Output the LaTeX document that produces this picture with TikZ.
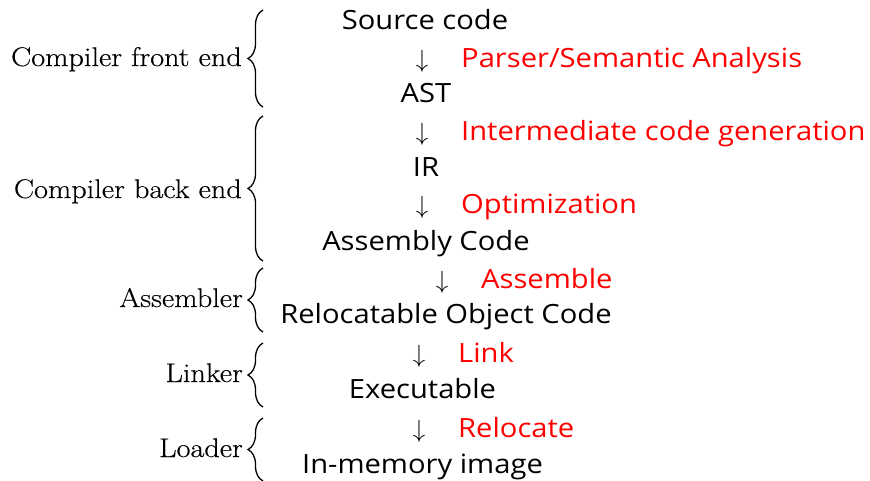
\documentclass[tikz,border=0pt]{standalone}
\usepackage{fontspec}
\newfontfamily\sansf[FakeStretch=1.1]{Open Sans}
\newfontfamily\serf[FakeStretch=1.12,FakeBold=0.35]{Latin Modern Roman}
\usetikzlibrary{decorations.pathreplacing}
\definecolor{labred}{RGB}{255,0,0}
\tikzset{
  stage/.style={font=\sansf\fontsize{26.5}{30}\selectfont, anchor=base, inner sep=0pt},
  act/.style={font=\sansf\fontsize{26.5}{30}\selectfont, text=labred, anchor=base west, inner sep=0pt},
  darrow/.style={font=\fontsize{26.5}{30}\selectfont, anchor=base, inner sep=0pt},
  phase/.style={font=\serf\fontsize{27}{30}\selectfont, anchor=base east, inner sep=0pt},
  bracefig/.style={decorate, decoration={brace, amplitude=15pt}, line width=1.3pt}
}
\begin{document}
\begin{tikzpicture}[x=1pt,y=-1pt]
\useasboundingbox (0,0) rectangle (870,480);
% stages
\node[stage] (src) at (425,29) {Source code};
\node[darrow] (a1) at (422,67) {$\downarrow$};
\node[act] (l1) at (461,67) {Parser/Semantic Analysis};
\node[stage] (ast) at (426,102) {AST};
\node[darrow] (a2) at (422,140) {$\downarrow$};
\node[act] (l2) at (461,140) {Intermediate code generation};
\node[stage] (ir) at (426,176) {IR};
\node[darrow] (a3) at (422,213) {$\downarrow$};
\node[act] (l3) at (461,213) {Optimization};
\node[stage] (asm) at (426,250) {Assembly Code};
\node[darrow] (a4) at (442,288) {$\downarrow$};
\node[act] (l4) at (481,288) {Assemble};
\node[stage] (rel) at (446,323) {Relocatable Object Code};
\node[darrow] (a5) at (419,362) {$\downarrow$};
\node[act] (l5) at (458,362) {Link};
\node[stage] (exe) at (422.5,398) {Executable};
\node[darrow] (a6) at (419,437) {$\downarrow$};
\node[act] (l6) at (458,437) {Relocate};
\node[stage] (mem) at (422.5,473) {In-memory image};
% phases
\node[phase] (pfront) at (242,66) {Compiler front end};
\node[phase] (pback) at (242,198) {Compiler back end};
\node[phase] (pasm) at (243,307) {Assembler};
\node[phase] (plink) at (243,382) {Linker};
\node[phase] (pload) at (243,457) {Loader};
% braces
\coordinate (fb1) at (263,107); \coordinate (fb2) at (263,10);
\coordinate (bb1) at (263,261); \coordinate (bb2) at (263,116);
\coordinate (ab1) at (263,332); \coordinate (ab2) at (263,268);
\coordinate (kb1) at (263,407); \coordinate (kb2) at (263,343);
\coordinate (ob1) at (263,481); \coordinate (ob2) at (263,418);
\draw[bracefig] (fb1) -- (fb2);
\draw[bracefig] (bb1) -- (bb2);
\draw[bracefig] (ab1) -- (ab2);
\draw[bracefig] (kb1) -- (kb2);
\draw[bracefig] (ob1) -- (ob2);
\end{tikzpicture}
\end{document}
